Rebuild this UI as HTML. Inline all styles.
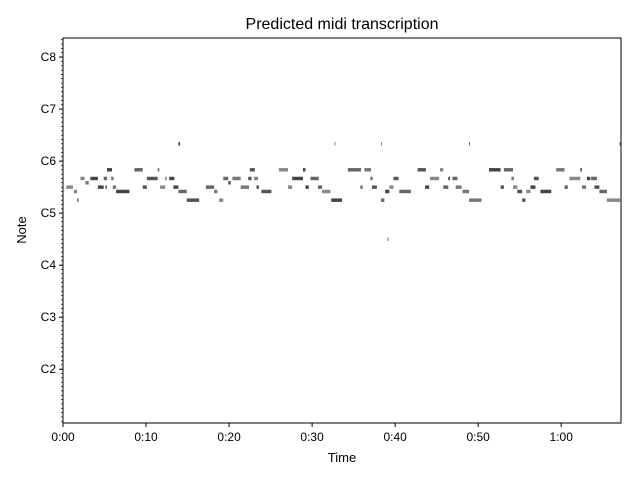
<!DOCTYPE html>
<html><head><meta charset="utf-8"><style>
body{margin:0;background:#fff;font-family:"Liberation Sans",sans-serif;}
svg text{font-family:"Liberation Sans",sans-serif;fill:#000;}
</style></head><body>
<svg id="c" width="640" height="480" xmlns="http://www.w3.org/2000/svg">
<rect width="640" height="480" fill="#fff"/>
<text x="342" y="29" font-size="16" text-anchor="middle">Predicted midi transcription</text>
<text x="342" y="462" font-size="13" text-anchor="middle">Time</text>
<text transform="translate(26,230) rotate(-90)" font-size="13" text-anchor="middle">Note</text>
<g id="notes"></g>
<g id="axes"></g>
</svg>
<script>
const pitches = [82,82,82,82,82,82,82,82,82,82,82,82,82,82,
80,80,80,80,80,80,80,80,80,80,80,80,80,80,80,80,80,80,80,80,80,80,80,
79,79,
78,78,78,78,78,78,78,78,78,78,78,78,78,78,78,78,78,78,78,78,78,78,78,78,78,
77,77,77,77,77,77,77,77,77,77,77,77,77,
75,75,75,75,75,75,75,75,
88,88,88,88,88,66];
const starts = [5.3,8.6,11.4,22.5,26.0,28.9,34.3,36.3,42.7,45.4,51.3,53.1,59.4,62.3,
2.1,3.3,4.9,5.8,10.1,12.3,12.8,19.3,20.4,22.3,23.0,27.6,29.8,37.0,39.8,44.2,46.4,46.9,54.0,56.7,61.0,63.1,63.6,
2.7,19.9,
0.4,4.2,5.1,6.0,9.6,11.7,13.3,17.2,21.4,23.3,27.1,29.2,30.7,35.8,37.2,39.3,43.6,45.8,47.3,52.7,54.2,56.3,60.4,62.5,64.0,
1.3,6.4,13.9,18.2,23.9,31.2,38.8,40.5,48.1,54.7,55.8,57.5,64.6,
1.7,14.9,18.8,32.3,38.3,48.9,55.3,65.5,
13.9,32.7,38.3,48.9,67.0,39.1];
const ends = [5.9,9.6,11.6,23.1,27.1,29.2,35.9,37.1,43.7,45.8,52.7,54.2,60.4,62.5,
2.6,4.2,5.3,6.1,11.4,12.5,13.4,19.9,21.4,22.7,23.5,28.9,30.8,37.3,40.4,45.3,46.6,47.5,54.3,57.3,62.3,63.5,64.3,
3.1,20.2,
1.2,4.9,5.3,6.4,10.1,12.3,13.9,18.2,22.4,23.6,27.6,29.6,31.2,36.1,37.8,39.8,44.1,46.4,48.0,53.1,54.7,56.9,60.8,63.0,64.6,
1.7,8.0,14.9,18.6,25.1,32.2,39.3,41.9,48.9,55.3,56.3,58.8,65.5,
1.9,16.4,19.3,33.6,38.7,50.4,55.7,67.1,
14.1,32.8,38.4,49.0,67.2,39.2];
const xTickVals = [0,10,20,30,40,50,60];
const xTickLabels = ["0:00","0:10","0:20","0:30","0:40","0:50","1:00"];
const yTickVals = [36,48,60,72,84,96,108];
const yTickLabels = ["C2","C3","C4","C5","C6","C7","C8"];

const L=63,R=621,T=38,B=423, tMax=67.2, yMin=23.6, yMax=112.4;
const sx=t=>L+(t/tMax)*(R-L);
const sy=m=>B-(m-yMin)/(yMax-yMin)*(B-T);
const NS="http://www.w3.org/2000/svg";
function mk(tag,attrs,parent){const e=document.createElementNS(NS,tag);for(const k in attrs)e.setAttribute(k,attrs[k]);parent.appendChild(e);return e;}
const ng=document.getElementById('notes'), ag=document.getElementById('axes');
const shades=["#444","#666","#777","#555","#888"];
for(let i=0;i<pitches.length;i++){
  const y0=sy(pitches[i]+0.4), y1=sy(pitches[i]-0.4);
  const r=mk('rect',{x:sx(starts[i]),y:y0,width:Math.max(0.8,sx(ends[i])-sx(starts[i])),height:y1-y0,fill:shades[i%5]},ng);
  
  
}
const frame=mk('rect',{x:L,y:T,width:R-L,height:B-T,fill:'none',stroke:'#000','stroke-width':1},ag);


for(let i=0;i<xTickVals.length;i++){
  const x=sx(xTickVals[i]);
  mk('line',{x1:x,x2:x,y1:B,y2:B+4,stroke:'#000'},ag);
  const t=mk('text',{x:x,y:B+18,'font-size':12,'text-anchor':'middle'},ag);
  t.textContent=xTickLabels[i];
  
  
}
for(let m=24;m<=112;m++){
  const y=sy(m);
  mk('line',{x1:L-2,x2:L,y1:y,y2:y,stroke:'#000','stroke-width':0.7},ag);
}
for(let i=0;i<yTickVals.length;i++){
  const y=sy(yTickVals[i]);
  mk('line',{x1:L-4,x2:L,y1:y,y2:y,stroke:'#000'},ag);
  const t=mk('text',{x:L-7,y:y+4,'font-size':12,'text-anchor':'end'},ag);
  t.textContent=yTickLabels[i];
  
  
}
</script>
</body></html>
